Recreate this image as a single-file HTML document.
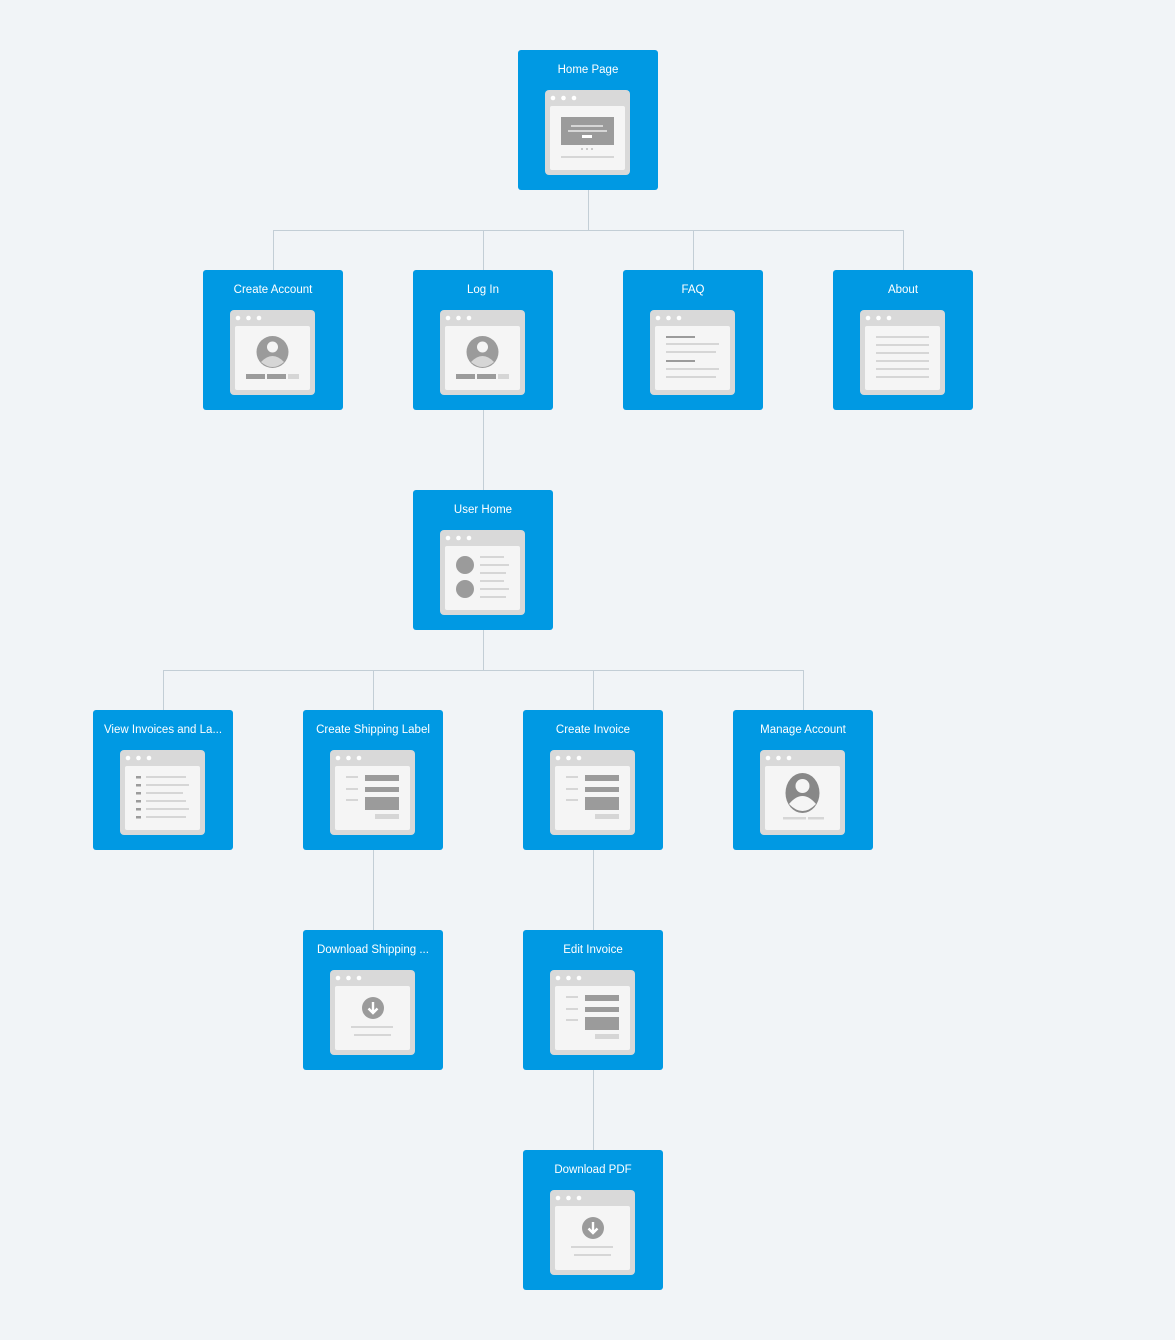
<!DOCTYPE html>
<html><head><meta charset="utf-8">
<style>
body{margin:0;width:1175px;height:1340px;background:#f1f4f7;position:relative;overflow:hidden;font-family:"Liberation Sans",sans-serif;}
.n{position:absolute;width:140px;height:140px;background:#0099e3;border-radius:3px;}
.n .t{position:absolute;left:0;right:0;top:14px;text-align:center;color:#fff;font-size:11.5px;white-space:nowrap;}
.n svg{position:absolute;left:27px;top:40px;}
</style></head><body>
<svg width="1175" height="1340" style="position:absolute;left:0;top:0" fill="none" stroke="#c3ced6" stroke-width="1">
<path d="M588.5 190V230.5M273.5 230.5H903.5M273.5 230V270M483.5 230V270M693.5 230V270M903.5 230V270"/>
<path d="M483.5 410V490M483.5 630V670.5M163.5 670.5H803.5M163.5 670V710M373.5 670V710M593.5 670V710M803.5 670V710"/>
<path d="M373.5 850V930M593.5 850V930M593.5 1070V1150"/>
</svg>

<div class="n" style="left:518px;top:50px"><div class="t">Home Page</div><svg width="85" height="85" data-i="home"></svg></div>
<div class="n" style="left:203px;top:270px"><div class="t">Create Account</div><svg width="85" height="85" data-i="prof"></svg></div>
<div class="n" style="left:413px;top:270px"><div class="t">Log In</div><svg width="85" height="85" data-i="prof"></svg></div>
<div class="n" style="left:623px;top:270px"><div class="t">FAQ</div><svg width="85" height="85" data-i="faq"></svg></div>
<div class="n" style="left:833px;top:270px"><div class="t">About</div><svg width="85" height="85" data-i="about"></svg></div>
<div class="n" style="left:413px;top:490px"><div class="t">User Home</div><svg width="85" height="85" data-i="user"></svg></div>
<div class="n" style="left:93px;top:710px"><div class="t">View Invoices and La...</div><svg width="85" height="85" data-i="list"></svg></div>
<div class="n" style="left:303px;top:710px"><div class="t">Create Shipping Label</div><svg width="85" height="85" data-i="form"></svg></div>
<div class="n" style="left:523px;top:710px"><div class="t">Create Invoice</div><svg width="85" height="85" data-i="form"></svg></div>
<div class="n" style="left:733px;top:710px"><div class="t">Manage Account</div><svg width="85" height="85" data-i="big"></svg></div>
<div class="n" style="left:303px;top:930px"><div class="t">Download Shipping ...</div><svg width="85" height="85" data-i="dl"></svg></div>
<div class="n" style="left:523px;top:930px"><div class="t">Edit Invoice</div><svg width="85" height="85" data-i="form"></svg></div>
<div class="n" style="left:523px;top:1150px"><div class="t">Download PDF</div><svg width="85" height="85" data-i="dl"></svg></div>

<script>
var D='#9b9b9b',L='#d6d6d6';
function r(x,y,w,h,c){return '<rect x="'+x+'" y="'+y+'" width="'+w+'" height="'+h+'" fill="'+c+'"/>';}
var base='<rect width="85" height="85" rx="4" fill="#d9d9d9"/><rect x="5" y="16" width="75" height="64" rx="2" fill="#f5f5f5"/><circle cx="8" cy="8" r="2.3" fill="#fff"/><circle cx="18.5" cy="8" r="2.3" fill="#fff"/><circle cx="29" cy="8" r="2.3" fill="#fff"/>';
var I={};
I.home=r(16,27,53,28,D)+r(26,35,32,2,L)+r(23,40,39,2,L)+r(37,45,10,3,'#fff')+'<circle cx="37" cy="59" r="1" fill="#bbb"/><circle cx="42" cy="59" r="1" fill="#bbb"/><circle cx="47" cy="59" r="1" fill="#bbb"/>'+r(16,66,53,2,L);
I.prof='<circle cx="42.5" cy="42" r="16" fill="'+D+'"/><circle cx="42.5" cy="37" r="5.5" fill="#f5f5f5"/><path d="M31 52 Q42.5 40 54 52 Q42.5 62 31 52Z" fill="#d6d6d6"/>'+r(16,64,19,5,D)+r(37,64,19,5,D)+r(58,64,11,5,L);
I.faq=r(16,26,29,2,D)+r(16,33,53,2,L)+r(16,41,50,2,L)+r(16,50,29,2,D)+r(16,58,53,2,L)+r(16,66,50,2,L);
I.about=r(16,26,53,2,L)+r(16,34,53,2,L)+r(16,42,53,2,L)+r(16,50,53,2,L)+r(16,58,53,2,L)+r(16,66,53,2,L);
I.user='<circle cx="25" cy="35" r="9" fill="'+D+'"/><circle cx="25" cy="59" r="9" fill="'+D+'"/>'+r(40,26,24,2,L)+r(40,34,29,2,L)+r(40,42,26,2,L)+r(40,50,24,2,L)+r(40,58,29,2,L)+r(40,66,26,2,L);
var l='';for(var k=0;k<6;k++){var y=26+k*8;l+=r(16,y,5,2.5,D)+r(26,y,[40,43,37,40,43,40][k],2,L);} I.list=l;
I.form=r(16,26,12,2,L)+r(35,25,34,6,D)+r(16,38,12,2,L)+r(35,37,34,5,D)+r(16,49,12,2,L)+r(35,47,34,13,D)+r(45,64,24,5,L);
I.big='<ellipse cx="42.5" cy="43" rx="17" ry="20" fill="#888"/><circle cx="42.5" cy="36" r="7" fill="#f5f5f5"/><path d="M29 54 Q42.5 38 56 54 Q42.5 68 29 54Z" fill="#f5f5f5"/>'+r(23,67,23,2.5,L)+r(48,67,16,2.5,L);
I.dl='<circle cx="43" cy="38" r="11" fill="'+D+'"/><path d="M43 32V43M38.5 38.5L43 43L47.5 38.5" stroke="#fff" stroke-width="2.4" fill="none"/>'+r(21,56,42,2,L)+r(24,64,37,2,L);
document.querySelectorAll('svg[data-i]').forEach(function(s){s.innerHTML=base+I[s.getAttribute('data-i')];});
</script>
</body></html>
